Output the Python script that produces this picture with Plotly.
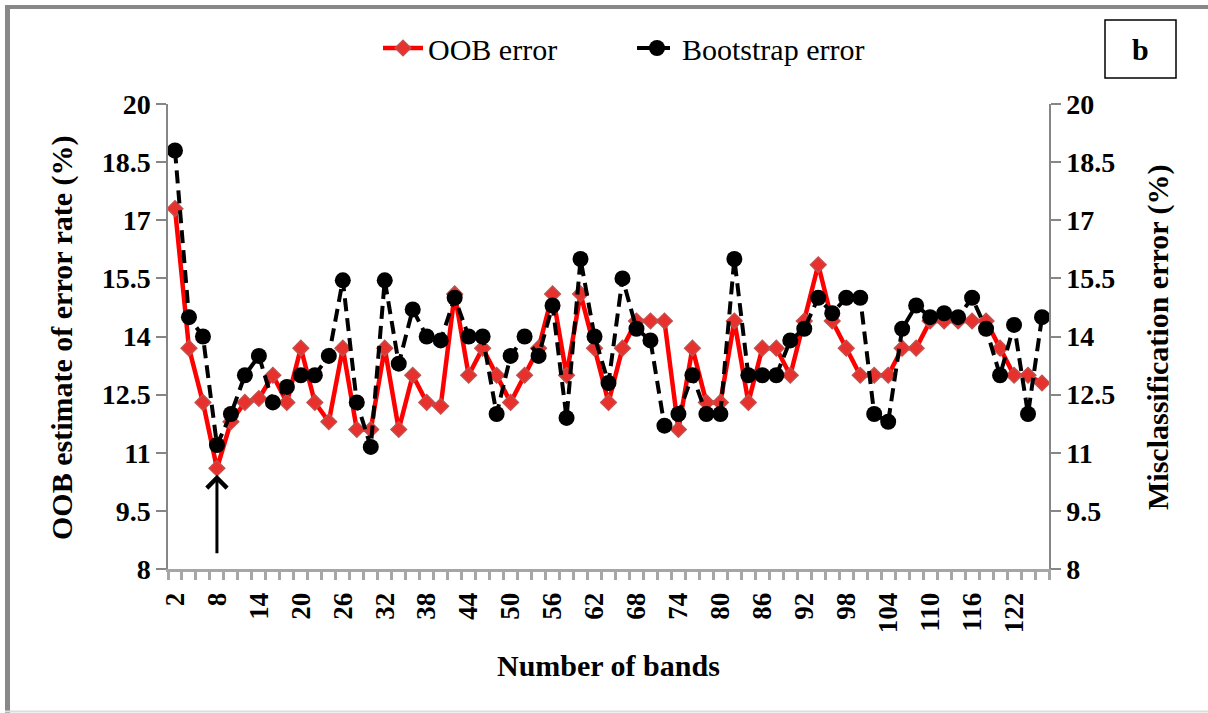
import plotly.graph_objects as go

bands = [2, 4, 6, 8, 10, 12, 14, 16, 18, 20, 22, 24, 26, 28, 30, 32, 34, 36, 38, 40,
         42, 44, 46, 48, 50, 52, 54, 56, 58, 60, 62, 64, 66, 68, 70, 72, 74, 76, 78, 80,
         82, 84, 86, 88, 90, 92, 94, 96, 98, 100, 102, 104, 106, 108, 110, 112, 114, 116,
         118, 120, 122, 124, 126]

oob_error = [17.3, 13.7, 12.3, 10.6, 11.8, 12.3, 12.4, 13.0, 12.3, 13.7, 12.3, 11.8, 13.7,
             11.6, 11.6, 13.7, 11.6, 13.0, 12.3, 12.2,
             15.1, 13.0, 13.7, 13.0, 12.3, 13.0, 13.7, 15.1, 13.0, 15.1, 13.7, 12.3, 13.7,
             14.4, 14.4, 14.4, 11.6, 13.7, 12.3, 12.3, 14.4,
             12.3, 13.7, 13.7, 13.0, 14.4, 15.85, 14.4, 13.7, 13.0, 13.0, 13.0, 13.7, 13.7,
             14.4, 14.4, 14.4, 14.4, 14.4, 13.7, 13.0, 13.0, 12.8]

bootstrap_error = [18.8, 14.5, 14.0, 11.2, 12.0, 13.0, 13.5, 12.3, 12.7, 13.0, 13.0, 13.5,
                   15.45, 12.3, 11.15, 15.45, 13.3, 14.7, 14.0, 13.9,
                   15.0, 14.0, 14.0, 12.0, 13.5, 14.0, 13.5, 14.8, 11.9, 16.0, 14.0, 12.8,
                   15.5, 14.2, 13.9, 11.7, 12.0, 13.0, 12.0, 12.0, 16.0,
                   13.0, 13.0, 13.0, 13.9, 14.2, 15.0, 14.6, 15.0, 15.0, 12.0, 11.8, 14.2,
                   14.8, 14.5, 14.6, 14.5, 15.0, 14.2, 13.0, 14.3, 12.0, 14.5]

y_ticks = [8, 9.5, 11, 12.5, 14, 15.5, 17, 18.5, 20]
x_tick_labels = bands[::3]

W, H = 1208, 713
L, R, T, B = 168, 1049, 104, 569

def px(xp):
    return (xp - L) / (R - L)

def py(yp):
    return (B - yp) / (B - T)

FONT = "Liberation Serif"

fig = go.Figure()
fig.add_trace(go.Scatter(
    x=bands, y=oob_error, name="OOB error", mode="lines+markers",
    line=dict(color="#ff0000", width=4.5),
    marker=dict(symbol="diamond", size=12, color="#e8302c",
                line=dict(color="#c0504d", width=1.5)),
))
fig.add_trace(go.Scatter(
    x=bands, y=bootstrap_error, name="Bootstrap error", mode="lines+markers",
    yaxis="y2",
    line=dict(color="#000000", width=4, dash="13px,7px"),
    marker=dict(symbol="circle", size=16, color="#000000"),
))

tick_font = dict(family=FONT, size=28, color="black", weight="bold")

fig.update_layout(
    width=W, height=H,
    margin=dict(l=L, r=W - R, t=T, b=H - B, autoexpand=False),
    paper_bgcolor="white", plot_bgcolor="white",
    font=dict(family=FONT, color="black"),
    showlegend=True,
    legend=dict(orientation="h", x=px(378), xanchor="left", y=py(48), yanchor="middle",
                font=dict(family=FONT, size=30, color="black"),
                bgcolor="rgba(0,0,0,0)", itemwidth=40, tracegroupgap=0,
                entrywidth=199, entrywidthmode="pixels"),
    xaxis=dict(
        range=[1, 127], tickmode="array", tickvals=x_tick_labels,
        ticktext=[str(v) for v in x_tick_labels], tickangle=-90,
        ticks="", showgrid=False, zeroline=False,
        showline=True, linecolor="#a6a6a6", linewidth=3,
        tickfont=dict(family=FONT, size=27, color="black", weight="bold"),
        ticklabelstandoff=10,
        minor=dict(ticks="outside", dtick=2, tick0=1, ticklen=8, tickwidth=3,
                   tickcolor="#a6a6a6", showgrid=False),
    ),
    yaxis=dict(
        range=[8, 20], tickmode="array", tickvals=y_ticks,
        ticktext=[f"{v:g}" for v in y_ticks],
        ticks="outside", ticklen=10, tickwidth=1.5, tickcolor="#868686",
        showline=True, linecolor="#868686", linewidth=1.5,
        showgrid=False, zeroline=False, tickfont=tick_font,
    ),
    yaxis2=dict(
        range=[8, 20], tickmode="array", tickvals=y_ticks,
        ticktext=[f"{v:g}" for v in y_ticks],
        overlaying="y", side="right", anchor="x",
        ticks="outside", ticklen=10, tickwidth=1.5, tickcolor="#868686",
        showline=True, linecolor="#868686", linewidth=1.5,
        showgrid=False, zeroline=False, tickfont=tick_font,
    ),
)

title_font = dict(family=FONT, size=30, color="black", weight="bold")
fig.add_annotation(x=px(62), y=py(338), xref="paper", yref="paper",
                   xanchor="center", yanchor="middle",
                   text="OOB estimate of error rate (%)", showarrow=False,
                   textangle=-90, font=title_font)
fig.add_annotation(x=px(1158), y=py(338), xref="paper", yref="paper",
                   xanchor="center", yanchor="middle",
                   text="Misclassification error (%)", showarrow=False,
                   textangle=-90, font=title_font)
fig.add_annotation(x=px(608), y=py(665), xref="paper", yref="paper",
                   xanchor="center", yanchor="middle",
                   text="Number of bands", showarrow=False, font=title_font)

# panel label box
fig.add_shape(type="rect", xref="paper", yref="paper",
              x0=px(1105), x1=px(1176), y0=py(78), y1=py(20),
              line=dict(color="black", width=1.5), fillcolor="white")
fig.add_annotation(x=px(1140.5), y=py(49), xref="paper", yref="paper",
                   xanchor="center", yanchor="middle",
                   text="b", showarrow=False, font=title_font)

# arrow pointing to the minimum
fig.add_annotation(x=8, y=10.43, xref="x", yref="y", text="", showarrow=True,
                   ax=0, ay=80, axref="pixel", ayref="pixel",
                   arrowhead=4, arrowsize=1.3, arrowwidth=3, arrowcolor="black",
                   standoff=0)

# outer frame
fig.add_shape(type="line", xref="paper", yref="paper",
              x0=px(7.5), x1=px(7.5), y0=py(5), y1=py(713),
              line=dict(color="#888888", width=5))
fig.add_shape(type="line", xref="paper", yref="paper",
              x0=px(5), x1=px(1208), y0=py(7), y1=py(7),
              line=dict(color="#888888", width=4))
fig.add_shape(type="line", xref="paper", yref="paper",
              x0=px(5), x1=px(1208), y0=py(711.5), y1=py(711.5),
              line=dict(color="#dddddd", width=2))

fig.write_html("out.html")
